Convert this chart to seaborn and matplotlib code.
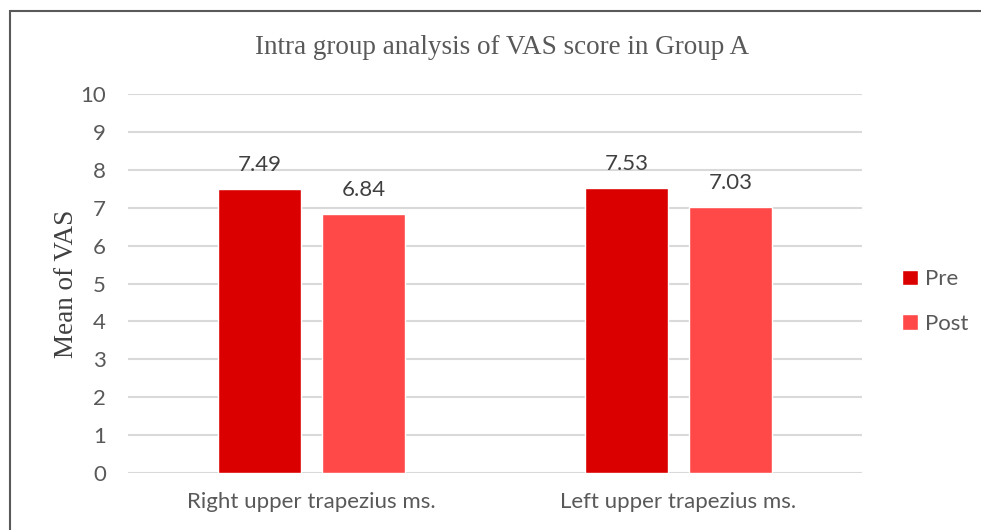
import matplotlib
matplotlib.use('Agg')
import matplotlib.pyplot as plt
import seaborn as sns
import pandas as pd
from matplotlib.patches import Rectangle

muscles = ['Right upper trapezius ms.', 'Left upper trapezius ms.']
phases = ['Pre', 'Post']
pre_vals = [7.49, 7.53]
post_vals = [6.84, 7.03]
yticks = list(range(0, 11))

df = pd.DataFrame({
    'muscle': muscles * 2,
    'phase': ['Pre'] * 2 + ['Post'] * 2,
    'value': pre_vals + post_vals,
})

sns.set_style('white')
plt.rcParams['font.family'] = ['Lato', 'DejaVu Sans']

fig = plt.figure(figsize=(9.81, 5.30), dpi=100)
ax = fig.add_axes([128 / 981, 1 - 473 / 530, (862 - 128) / 981, (473 - 94) / 530])

palette = {'Pre': '#DA0000', 'Post': '#FF4949'}
sns.barplot(data=df, x='muscle', y='value', hue='phase', hue_order=phases,
            order=muscles, palette=palette, width=0.567, gap=0.21,
            saturation=1, ax=ax, legend=True, zorder=3)

for cont in ax.containers:
    ax.bar_label(cont, fmt='%.2f', padding=10, fontsize=16, color='#404040')

ax.set_ylim(0, 10)
ax.set_yticks(yticks)
ax.yaxis.grid(True, color='#D9D9D9', linewidth=1.5, zorder=0)
ax.set_axisbelow(True)
for s in ax.spines.values():
    s.set_visible(False)
ax.tick_params(axis='both', length=0, labelsize=16, labelcolor='#595959')
ax.tick_params(axis='y', pad=16)
ax.tick_params(axis='x', pad=14)
ax.set_xlabel('')
ax.set_ylabel('Mean of VAS', family='Liberation Serif', fontsize=19.5,
              color='#404040', labelpad=1)

fig.text(502 / 981, 1 - 48 / 530, 'Intra group analysis of VAS score in Group A',
         family='Liberation Serif', fontsize=19.5, color='#595959',
         ha='center', va='center')

ax.legend(loc='center left', bbox_to_anchor=(1 + 40 / 734, 0.452),
          frameon=False, fontsize=16, labelcolor='#595959',
          handlelength=0.7, handleheight=0.7, handletextpad=0.35,
          labelspacing=1.1, borderpad=0, borderaxespad=0)

fig.patches.append(Rectangle((10 / 981, -0.05), 1.2, 1 - 11 / 530 + 0.05,
                             transform=fig.transFigure, fill=False,
                             edgecolor='#595959', linewidth=1.5))

fig.savefig('out.png', dpi=100)
